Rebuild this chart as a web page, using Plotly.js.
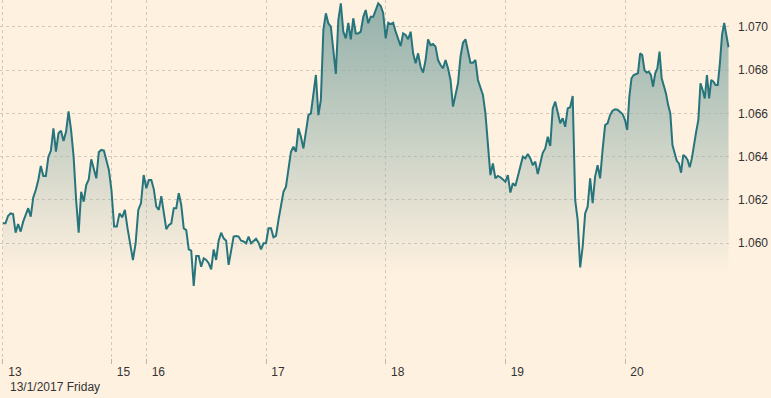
<!DOCTYPE html>
<html>
<head>
<meta charset="utf-8">
<script src="https://cdn.plot.ly/plotly-3.0.1.min.js"></script>
<style>
html,body{margin:0;padding:0;background:#fff1e0;}
#chart{width:771px;height:398px;}
</style>
</head>
<body>
<div id="chart"></div>
<script>
// EUR/USD-style intraday series
const fri13 = [1.06092,1.06092,1.06126,1.06138,1.06135,1.06049,1.06089,1.06054,1.06100,1.06131,1.06162,1.06123,1.06212,1.06246,1.06292,1.06357,1.06311,1.06311,1.06400,1.06428,1.06531,1.06423,1.06508,1.06520,1.06472,1.06515,1.06609,1.06523,1.06400,1.06200,1.06049,1.06238,1.06192,1.06269,1.06295,1.06388,1.06338,1.06300,1.06421,1.06431,1.06428,1.06377,1.06338];
const sun15 = [1.06246,1.06077,1.06077,1.06138,1.06120,1.06154,1.06069,1.05984,1.05923,1.06000,1.06154,1.06185,1.06315];
const mon16 = [1.06254,1.06292,1.06292,1.06249,1.06169,1.06154,1.06218,1.06138,1.06065,1.06084,1.06092,1.06162,1.06162,1.06231,1.06177,1.06069,1.06061,1.05972,1.05966,1.05803,1.05941,1.05941,1.05892,1.05931,1.05923,1.05908,1.05880,1.05972,1.05923,1.06012,1.06049,1.06023,1.06012,1.05900,1.05961,1.06031,1.06034,1.06031,1.06012,1.06009,1.06000,1.06031,1.06000,1.06009,1.06021,1.06003,1.05972,1.06000];
const tue17 = [1.06000,1.06069,1.06069,1.06028,1.06034,1.06108,1.06169,1.06238,1.06261,1.06338,1.06423,1.06446,1.06423,1.06531,1.06492,1.06438,1.06515,1.06592,1.06600,1.06692,1.06777,1.06592,1.06662,1.06985,1.07062,1.07016,1.07000,1.06892,1.06782,1.07031,1.07108,1.06977,1.06946,1.07018,1.06942,1.07039,1.06969,1.06969,1.06977,1.07046,1.07077,1.07016,1.07046,1.07046,1.07077,1.07108,1.07096,1.07062];
const wed18 = [1.06946,1.07018,1.07012,1.07018,1.06977,1.06939,1.06911,1.06969,1.06962,1.06942,1.06977,1.06877,1.06831,1.06877,1.06815,1.06788,1.06846,1.06942,1.06915,1.06920,1.06908,1.06846,1.06823,1.06808,1.06846,1.06808,1.06754,1.06631,1.06685,1.06739,1.06862,1.06926,1.06942,1.06892,1.06834,1.06834,1.06846,1.06754,1.06720,1.06685,1.06600,1.06462,1.06315,1.06369,1.06300,1.06311,1.06305,1.06295];
const thu19 = [1.06284,1.06315,1.06234,1.06277,1.06265,1.06308,1.06354,1.06400,1.06392,1.06412,1.06392,1.06361,1.06377,1.06320,1.06369,1.06418,1.06438,1.06492,1.06449,1.06623,1.06654,1.06600,1.06554,1.06577,1.06538,1.06623,1.06628,1.06680,1.06200,1.06108,1.05889,1.05984,1.06138,1.06169,1.06300,1.06185,1.06308,1.06361,1.06300,1.06431,1.06546,1.06554,1.06592,1.06612,1.06619,1.06617,1.06608,1.06597];
const fri20 = [1.06569,1.06523,1.06677,1.06762,1.06777,1.06782,1.06785,1.06877,1.06869,1.06800,1.06788,1.06792,1.06777,1.06723,1.06785,1.06808,1.06885,1.06762,1.06723,1.06692,1.06638,1.06600,1.06454,1.06415,1.06381,1.06369,1.06326,1.06408,1.06400,1.06385,1.06351,1.06392,1.06462,1.06515,1.06569,1.06739,1.06708,1.06669,1.06777,1.06669,1.06754,1.06746,1.06731,1.06731,1.06831,1.06962,1.07018,1.06954,1.06905];

// trading sessions (start time, length in hours, values)
const sessionStarts = ['2017-01-13T00:00:00Z','2017-01-15T17:00:00Z','2017-01-16T00:00:00Z','2017-01-17T00:00:00Z','2017-01-18T00:00:00Z','2017-01-19T00:00:00Z','2017-01-20T00:00:00Z'];
const sessionHours = [21.75, 7, 24, 24, 24, 24, 20.75];
const sessionValues = [fri13, sun15, mon16, tue17, wed18, thu19, fri20];

const tickVals = ['2017-01-13 00:00','2017-01-15 17:00','2017-01-16 00:00','2017-01-17 00:00','2017-01-18 00:00','2017-01-19 00:00','2017-01-20 00:00'];
const tickText = ['13','15','16','17','18','19','20'];
const yTickVals = [1.060, 1.062, 1.064, 1.066, 1.068, 1.070];
const yTickText = ['1.060','1.062','1.064','1.066','1.068','1.070'];
const dateLabel = '13/1/2017 Friday';

function fmt(ms){ return new Date(ms).toISOString().slice(0,19).replace('T',' '); }
const xs = [], ys = [];
sessionValues.forEach(function(vals, s){
  const t0 = Date.parse(sessionStarts[s]);
  const last = (s === sessionValues.length - 1);
  const step = sessionHours[s] * 3600000 / (last ? vals.length - 1 : vals.length);
  vals.forEach(function(v, i){ xs.push(fmt(t0 + i*step)); ys.push(v); });
});

const lineColor = '#26747c';
const trace = {
  x: xs, y: ys, type: 'scatter', mode: 'lines',
  line: {color: lineColor, width: 2},
  fill: 'tozeroy',
  fillgradient: {type: 'vertical', start: 1.0585, stop: 1.0712,
    colorscale: [[0, 'rgba(146,176,170,0)'], [1, 'rgba(146,176,170,1)']]},
  hoverinfo: 'skip'
};

const font = {family: '"Liberation Sans", Arial, sans-serif', size: 12, color: '#333333'};
const gridColor = '#d2c9bd';
const layout = {
  width: 771, height: 398,
  margin: {l: 0, r: 40, t: 0, b: 40},
  paper_bgcolor: '#fff1e0', plot_bgcolor: '#fff1e0',
  showlegend: false,
  font: font,
  xaxis: {
    type: 'date',
    range: ['2017-01-12 23:24', '2017-01-20 21:15'],
    rangebreaks: [{bounds: ['2017-01-13 21:45', '2017-01-15 17:00']}],
    tickmode: 'array', tickvals: tickVals, ticktext: tickText,
    showgrid: true, gridcolor: gridColor, griddash: 'dot', gridwidth: 1,
    ticks: 'outside', ticklen: 5, tickcolor: '#bdb5aa', tickwidth: 1,
    ticklabelshift: 12, ticklabelstandoff: -2,
    showline: false, zeroline: false, fixedrange: true,
    tickfont: font
  },
  yaxis: {
    side: 'right',
    range: [1.054704, 1.071233],
    tickmode: 'array', tickvals: yTickVals, ticktext: yTickText,
    showgrid: true, gridcolor: gridColor, griddash: 'dot', gridwidth: 1,
    ticks: '', ticklabelstandoff: 6,
    showline: false, zeroline: false, fixedrange: true,
    tickfont: font
  },
  annotations: [{
    text: dateLabel, xref: 'paper', yref: 'paper', x: 0, y: 0,
    xanchor: 'left', yanchor: 'middle', xshift: 8, yshift: -29, showarrow: false, font: font
  }]
};

Plotly.newPlot('chart', [trace], layout, {staticPlot: true, displayModeBar: false});
</script>
</body>
</html>
